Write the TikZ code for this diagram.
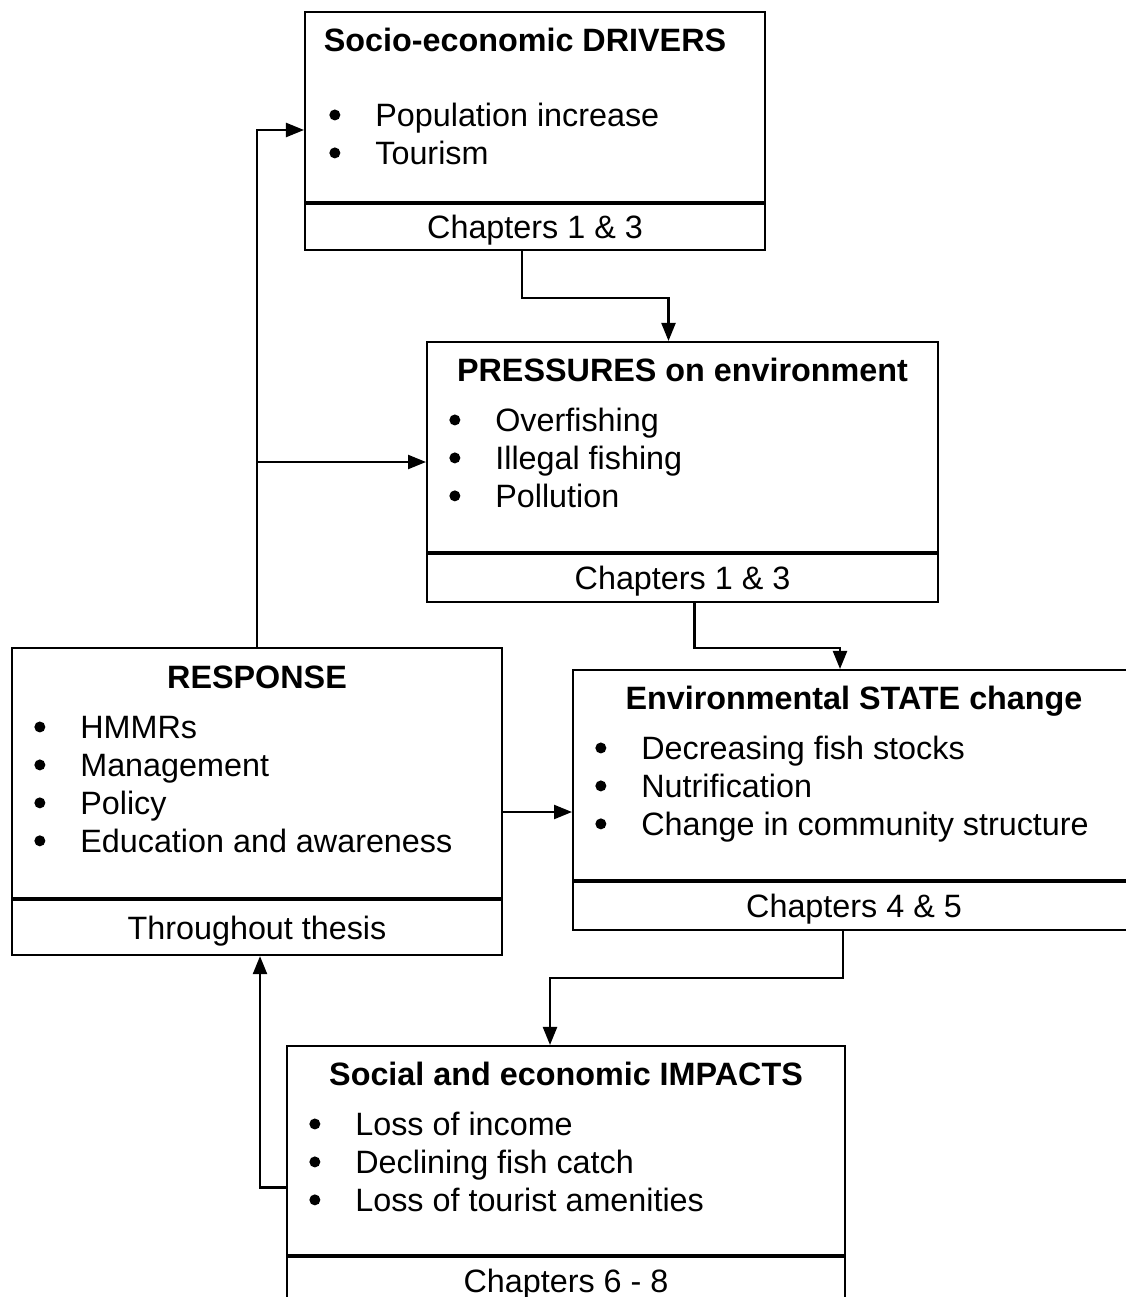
\documentclass[tikz,border=0pt]{standalone}
\usepackage{fontspec}
\setmainfont{Liberation Sans}
\usepackage{tikz}
\usetikzlibrary{positioning}
\usetikzlibrary{arrows.meta,calc}
\tikzset{
	body/.style={draw=black, line width=1.2pt, rectangle, inner sep=0pt},
	foot/.style={draw=black, line width=1.2pt, rectangle, inner sep=0pt,
			font=\fontsize{18.4}{21.6}\selectfont, text height=0.46cm, text depth=0pt},
	boxtitle/.style={inner sep=0pt, font=\fontsize{18.4}{21.6}\selectfont\bfseries,
			text height=0.46cm, text depth=0pt},
	blist/.style={inner sep=0pt, anchor=base west, font=\fontsize{18.4}{21.6}\selectfont},
	arr/.style={line width=1.3pt, -{Triangle[length=0.36cm,width=0.28cm]}}
}
\newcommand{\bul}{\tikz[baseline=-0.13cm]\fill (0cm,0.11cm) circle (0.11cm);}
\newcommand{\bulletlist}[1]{\begin{tabular}[t]{@{}p{0.92cm}@{}l@{}}#1\end{tabular}}

\begin{document}
\begin{tikzpicture}[x=0.02cm, y=-0.02cm]
  \useasboundingbox (0,0) rectangle (1125,1297);

  % drivers
  \node[body, minimum width=9.2cm, minimum height=3.8cm] (drv) at (535,107) {};
  \node[foot, minimum width=9.2cm, minimum height=0.92cm, below=0pt of drv] (drvF) {Chapters 1 \& 3};
  \node[boxtitle, below=0.34cm of drv.north, xshift=-0.2cm] (drvT) {Socio-economic DRIVERS};
  \node[blist] (drvL) at ($(drv.north west)+(25,116)$) {\bulletlist{\bul & Population increase\\ \bul & Tourism}};

  % pressures
  \node[body, minimum width=10.22cm, minimum height=4.2cm] (prs) at (682.5,447) {};
  \node[foot, minimum width=10.22cm, minimum height=0.96cm, below=0pt of prs] (prsF) {Chapters 1 \& 3};
  \node[boxtitle, below=0.34cm of prs.north] (prsT) {PRESSURES on environment};
  \node[blist] (prsL) at ($(prs.north west)+(23,91)$) {\bulletlist{\bul & Overfishing\\ \bul & Illegal fishing\\ \bul & Pollution}};

  % state
  \node[body, minimum width=11.24cm, minimum height=4.2cm] (st) at (854,775) {};
  \node[foot, minimum width=11.24cm, minimum height=0.96cm, below=0pt of st] (stF) {Chapters 4 \& 5};
  \node[boxtitle, below=0.34cm of st.north] (stT) {Environmental STATE change};
  \node[blist] (stL) at ($(st.north west)+(23,91)$) {\bulletlist{\bul & Decreasing fish stocks\\ \bul & Nutrification\\ \bul & Change in community structure}};

  % response
  \node[body, minimum width=9.8cm, minimum height=5cm] (res) at (257,773) {};
  \node[foot, minimum width=9.8cm, minimum height=1.1cm, below=0pt of res] (resF) {Throughout thesis};
  \node[boxtitle, below=0.36cm of res.north] (resT) {RESPONSE};
  \node[blist] (resL) at ($(res.north west)+(23,92)$) {\bulletlist{\bul & HMMRs\\ \bul & Management\\ \bul & Policy\\ \bul & Education and awareness}};

  % impacts
  \node[body, minimum width=11.16cm, minimum height=4.18cm] (imp) at (566,1150.5) {};
  \node[foot, minimum width=11.16cm, minimum height=0.96cm, below=0pt of imp] (impF) {Chapters 6 - 8};
  \node[boxtitle, below=0.34cm of imp.north] (impT) {Social and economic IMPACTS};
  \node[blist] (impL) at ($(imp.north west)+(23,91)$) {\bulletlist{\bul & Loss of income\\ \bul & Declining fish catch\\ \bul & Loss of tourist amenities}};

  % connectors
  \coordinate (prsIn) at ($(prs.west)+(0,15)$);
  \coordinate (stIn) at ($(st.west)+(0,37)$);
  \draw[arr] ($(drvF.south)+(-13,0)$) -- ++(0,47) -| ($(prs.north)+(-14,0)$);
  \draw[arr] ($(prsF.south)+(12,0)$) -- ++(0,45) -| ($(st.north)+(-14,0)$);
  \draw[arr] ($(stF.south)+(-11,0)$) -- ++(0,47) -| ($(imp.north)+(-16,0)$);
  \draw[arr] ($(imp.west)+(0,37)$) -| ($(resF.south)+(3,0)$);
  \draw[arr] (res.north) |- ($(drv.west)+(0,23)$);
  \draw[arr] (res.north |- prsIn) -- (prsIn);
  \draw[arr] (res.east |- stIn) -- (stIn);
\end{tikzpicture}
\end{document}
